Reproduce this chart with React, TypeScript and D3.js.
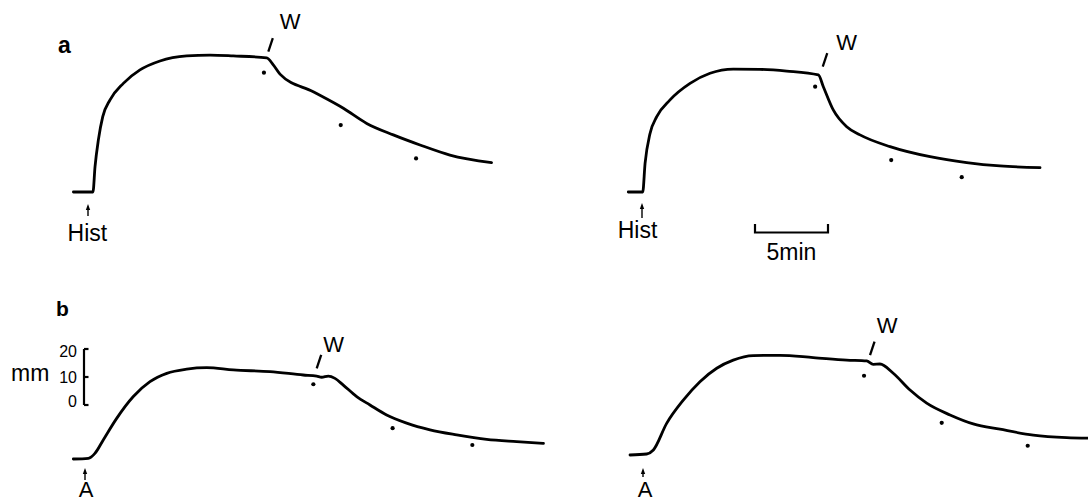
import React from 'react'
import * as d3 from 'd3'

// traces: time after drug (min) and contraction (mm)
const timeA1 = [-1.0, 0.34, 0.48, 0.71, 1.01, 1.51, 2.42, 3.56, 4.93, 6.76, 8.36, 9.95, 12.24, 12.69, 13.15, 15.43, 17.49, 19.09, 20.91, 22.74, 24.79, 27.64]
const mmA1 = [0, 0, 9.0, 18.6, 26.9, 32.9, 38.8, 43.6, 46.8, 48.6, 48.9, 48.6, 47.9, 45.4, 42.1, 35.8, 29.9, 24.5, 20.4, 16.8, 13.2, 10.5]

const timeA2 = [-0.94, 0.05, 0.21, 0.55, 1.01, 1.92, 3.29, 4.66, 6.25, 8.08, 9.91, 12.08, 12.42, 13.1, 14.02, 14.93, 16.99, 19.73, 22.24, 24.52, 27.26]
const mmA2 = [0, 0, 10.2, 20.9, 26.9, 32.9, 38.8, 42.4, 43.9, 43.8, 43.2, 41.8, 37.6, 29.3, 23.3, 20.4, 16.2, 12.6, 10.5, 9.3, 8.7]

const timeB1 = [-0.8, 0.23, 0.68, 1.25, 2.17, 3.31, 4.45, 5.6, 6.97, 8.34, 10.16, 12.67, 14.95, 15.87, 16.21, 16.66, 17.12, 17.69, 18.61, 19.52, 20.66, 22.03, 23.63, 25.46, 27.51, 29.57, 31.4]
const mmB1 = [0, 0.25, 2.0, 6.8, 14.5, 22.3, 27.6, 30.6, 32.1, 32.6, 31.8, 31.2, 30.0, 29.6, 29.2, 29.6, 28.8, 26.4, 22.3, 19.3, 15.7, 12.8, 10.4, 8.6, 7.0, 6.2, 5.6]

const timeB2 = [-0.89, 0.25, 0.71, 1.62, 2.76, 3.9, 5.05, 6.18, 7.55, 9.38, 11.66, 13.95, 15.32, 15.77, 16.23, 17.14, 18.29, 19.43, 21.03, 22.62, 24.45, 26.73, 29.02, 30.48]
const mmB2 = [0, 0.36, 1.8, 11.3, 19.6, 26.2, 31.0, 33.9, 35.5, 35.6, 34.8, 33.9, 33.6, 32.4, 32.5, 29.2, 23.2, 18.5, 14.3, 11.1, 9.2, 7.1, 6.2, 6.0]

// dots under the traces
const dotTimeA1 = [12.05, 17.31, 22.47]
const dotMmA1 = [42.6, 23.9, 12.0]
const dotTimeA2 = [11.86, 17.07, 21.9]
const dotMmA2 = [37.6, 11.4, 5.3]
const dotTimeB1 = [15.64, 21.07, 26.53]
const dotMmB1 = [26.7, 11.0, 5.0]
const dotTimeB2 = [15.14, 20.46, 26.35]
const dotMmB2 = [28.3, 11.5, 3.3]

// washout marks (W)
const washTimes = [12.35, 12.38, 15.87, 15.55]
const washLevels = [50.1, 44.75, 32.4, 35.7]

const drugLabels = ['Hist', 'Hist', 'A', 'A']
const panelLetters = ['a', 'b']
const calibTicks = [0, 10, 20]

const pxPerMin = 14.6
const pxPerMm = 2.8

const font = '"Liberation Sans", Arial, Helvetica, sans-serif'

// layout of the four traces
const panels = [
  { x0: 88, y0: 192, wdx: 21.7, wdy: -23, labelDx: -0.6, labelY: 241, labelSize: 23, arrow: [204, 216] },
  { x0: 642, y0: 192, wdx: 24, wdy: -17, labelDx: -4.5, labelY: 238, labelSize: 23, arrow: [203, 218] },
  { x0: 85, y0: 459, wdx: 17, wdy: -16, labelDx: 1, labelY: 497, labelSize: 22, arrow: [468, 480] },
  { x0: 643, y0: 455, wdx: 17, wdy: -22, labelDx: 2, labelY: 497, labelSize: 22, arrow: [468, 477] },
]

const traces = [
  { t: timeA1, v: mmA1, dt: dotTimeA1, dv: dotMmA1 },
  { t: timeA2, v: mmA2, dt: dotTimeA2, dv: dotMmA2 },
  { t: timeB1, v: mmB1, dt: dotTimeB1, dv: dotMmB1 },
  { t: timeB2, v: mmB2, dt: dotTimeB2, dv: dotMmB2 },
]

function Trace({ index }) {
  const p = panels[index]
  const tr = traces[index]
  const x = d3.scaleLinear().domain([0, 1]).range([p.x0, p.x0 + pxPerMin])
  const y = d3.scaleLinear().domain([0, 1]).range([p.y0, p.y0 - pxPerMm])

  const line = d3
    .line()
    .x((d) => x(d[0]))
    .y((d) => y(d[1]))
    .curve(d3.curveMonotoneX)

  const pts = tr.t.map((t, i) => [t, tr.v[i]])
  const wx = x(washTimes[index])
  const wy = y(washLevels[index])
  const ax = x(0)

  return (
    <g>
      <path d={line(pts)} fill="none" stroke="#000" strokeWidth={2.8} strokeLinejoin="round" strokeLinecap="round" />
      {tr.dt.map((t, i) => (
        <circle key={i} cx={x(t)} cy={y(tr.dv[i])} r={2.1} fill="#000" />
      ))}
      <line x1={wx} y1={wy} x2={wx + 4.5} y2={wy - 13.5} stroke="#000" strokeWidth={2.3} />
      <text x={wx + p.wdx} y={wy + p.wdy} textAnchor="middle" style={{ fontFamily: font, fontSize: '22px' }}>
        W
      </text>
      <line x1={ax} x2={ax} y1={p.arrow[0] + 4} y2={p.arrow[1]} stroke="#000" strokeWidth={1.4} />
      <path d={`M${ax},${p.arrow[0]} L${ax - 2.2},${p.arrow[0] + 6} L${ax + 2.2},${p.arrow[0] + 6} Z`} fill="#000" />
      <text
        x={ax + p.labelDx}
        y={p.labelY}
        textAnchor="middle"
        style={{ fontFamily: font, fontSize: `${p.labelSize}px` }}
      >
        {drugLabels[index]}
      </text>
    </g>
  )
}

export default function App() {
  // time calibration bar (5 min)
  const tScale = d3.scaleLinear().domain([0, 5]).range([755, 755 + 5 * pxPerMin])
  // contraction calibration bracket (0-20 mm)
  const mmScale = d3.scaleLinear().domain([0, 20]).range([405, 405 - 20 * pxPerMm])
  const calX = 84

  return (
    <svg width={1088} height={502} style={{ position: 'absolute', left: 0, top: 0, background: '#fff' }}>
      <text x={58} y={52.5} style={{ fontFamily: font, fontSize: '23px', fontWeight: 'bold' }}>
        {panelLetters[0]}
      </text>
      <text x={56} y={316} style={{ fontFamily: font, fontSize: '21px', fontWeight: 'bold' }}>
        {panelLetters[1]}
      </text>

      {panels.map((_, i) => (
        <Trace key={i} index={i} />
      ))}

      {/* 5 min bar */}
      <path
        d={`M${tScale(0)},${224} V${232.5} H${tScale(5)} V${224}`}
        fill="none"
        stroke="#000"
        strokeWidth={2.2}
      />
      <text x={(tScale(0) + tScale(5)) / 2} y={260} textAnchor="middle" style={{ fontFamily: font, fontSize: '23px' }}>
        5min
      </text>

      {/* mm bracket */}
      <line x1={calX} x2={calX} y1={mmScale(20)} y2={mmScale(0)} stroke="#000" strokeWidth={2.2} />
      {calibTicks.map((v) => (
        <g key={v}>
          <line x1={calX} x2={calX + 4.5} y1={mmScale(v)} y2={mmScale(v)} stroke="#000" strokeWidth={2.2} />
          <text
            x={77}
            y={mmScale(v) + (v === 20 ? 8 : v === 10 ? 5.5 : 2)}
            textAnchor="end"
            style={{ fontFamily: font, fontSize: '16px' }}
          >
            {v}
          </text>
        </g>
      ))}
      <text x={11} y={381} style={{ fontFamily: font, fontSize: '23px' }}>
        mm
      </text>
    </svg>
  )
}
